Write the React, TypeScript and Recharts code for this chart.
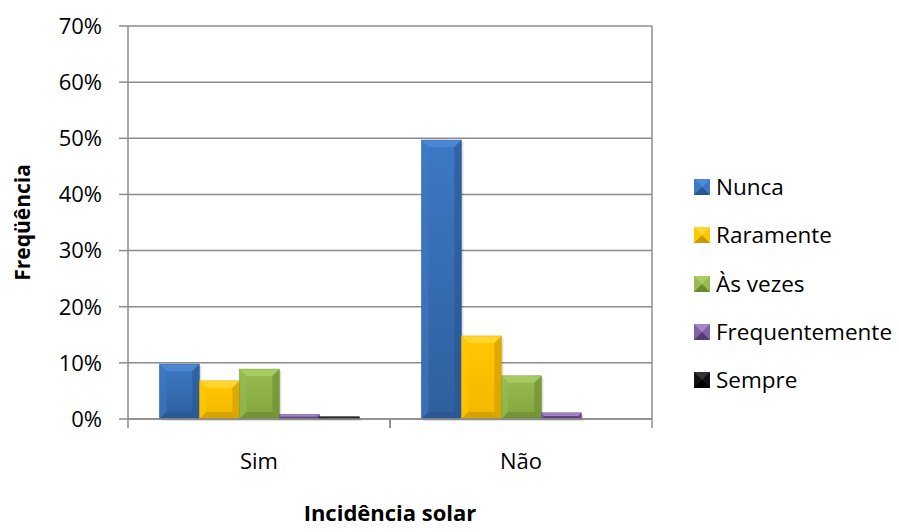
import React from "react";
import {
  BarChart,
  Bar,
  XAxis,
  YAxis,
  CartesianGrid,
  Legend,
} from "recharts";

const categories = ["Sim", "Não"];
const nunca = [0.098, 0.497];
const raramente = [0.068, 0.148];
const asVezes = [0.089, 0.077];
const frequentemente = [0.008, 0.011];
const sempre = [0.004, 0];
const yTicks = [0, 0.1, 0.2, 0.3, 0.4, 0.5, 0.6, 0.7];

const series = [
  { key: "nunca", name: "Nunca", values: nunca, top: "#4b8ad6", mid: "#3d79c4", bottom: "#2f5f9e", edge: "#2a5590" },
  { key: "raramente", name: "Raramente", values: raramente, top: "#ffd633", mid: "#ffc800", bottom: "#f2b800", edge: "#c99a00" },
  { key: "asVezes", name: "Às vezes", values: asVezes, top: "#a9cc63", mid: "#97bb52", bottom: "#83a53f", edge: "#6b8a30" },
  { key: "frequentemente", name: "Frequentemente", values: frequentemente, top: "#a387cc", mid: "#8064a2", bottom: "#6a4f8c", edge: "#553d73" },
  { key: "sempre", name: "Sempre", values: sempre, top: "#333333", mid: "#111111", bottom: "#000000", edge: "#000000" },
];

const data = categories.map((c, i) => {
  const row: Record<string, string | number> = { category: c };
  series.forEach((s) => {
    row[s.key] = s.values[i];
  });
  return row;
});

const FONT = "'Open Sans', sans-serif";
const GRID = "#8c8c8c";
const TICK_MARGIN = 34;

const makeShape = (s: (typeof series)[number]) => (props: any) => {
  const { x, y, width, height } = props;
  if (!height || height <= 0) return <g />;
  const w = width;
  const h = height;
  const b = Math.max(0.5, Math.min(7, w / 5, h / 2));
  return (
    <g>
      <rect x={x + 2} y={y + 2} width={w} height={h} fill="rgba(0,0,0,0.12)" />
      <rect x={x} y={y} width={w} height={h} fill={`url(#grad-${s.key})`} />
      <polygon
        points={`${x},${y} ${x + w},${y} ${x + w - b},${y + b} ${x + b},${y + b}`}
        fill={s.top}
        opacity={0.9}
      />
      <polygon
        points={`${x},${y} ${x + b},${y + b} ${x + b},${y + h - b} ${x},${y + h}`}
        fill={s.mid}
        opacity={0.6}
      />
      <polygon
        points={`${x + w},${y} ${x + w},${y + h} ${x + w - b},${y + h - b} ${x + w - b},${y + b}`}
        fill={s.edge}
        opacity={0.6}
      />
      <polygon
        points={`${x},${y + h} ${x + w},${y + h} ${x + w - b},${y + h - b} ${x + b},${y + h - b}`}
        fill={s.edge}
        opacity={0.7}
      />
      <rect x={x} y={y} width={w} height={h} fill="none" stroke={s.edge} strokeWidth={0.6} opacity={0.6} />
    </g>
  );
};

// category label plus Excel-style tick marks on the band edges
const CategoryTick = (props: any) => {
  const { x, y, payload } = props;
  const half = payload && payload.offset ? payload.offset : 131;
  const axisY = y - TICK_MARGIN;
  return (
    <g>
      <line x1={x - half} x2={x - half} y1={axisY} y2={axisY + 9} stroke={GRID} strokeWidth={1.5} />
      <line x1={x + half} x2={x + half} y1={axisY} y2={axisY + 9} stroke={GRID} strokeWidth={1.5} />
      <text
        x={x}
        y={y}
        dy="0.71em"
        textAnchor="middle"
        fontFamily={FONT}
        fontSize={22}
        fill="#000"
      >
        {payload.value}
      </text>
    </g>
  );
};

const YTitle = (props: any) => {
  const vb = props.viewBox;
  const cy = vb.y + vb.height / 2;
  return (
    <text
      x={22}
      y={cy}
      transform={`rotate(-90, 22, ${cy})`}
      textAnchor="middle"
      dominantBaseline="central"
      fontFamily={FONT}
      fontWeight={700}
      fontSize={21}
      fill="#000"
    >
      Freqüência
    </text>
  );
};

const XTitle = (props: any) => {
  const vb = props.viewBox;
  return (
    <text
      x={vb.x + vb.width / 2}
      y={521}
      textAnchor="middle"
      fontFamily={FONT}
      fontWeight={700}
      fontSize={22}
      fill="#000"
    >
      Incidência solar
    </text>
  );
};

const LegendContent = () => (
  <div style={{ fontFamily: FONT, fontSize: 22.5, color: "#000" }}>
    {series.map((s) => (
      <div
        key={s.key}
        style={{ display: "flex", alignItems: "center", height: 48.3 }}
      >
        <svg width={16} height={16} style={{ marginRight: 6 }}>
          <rect x={0} y={0} width={16} height={16} fill={s.mid} />
          <polygon points="0,0 16,0 8,8" fill={s.top} />
          <polygon points="0,16 16,16 8,8" fill={s.edge} />
        </svg>
        <span style={{ lineHeight: "22px" }}>{s.name}</span>
      </div>
    ))}
  </div>
);

export default function App() {
  return (
    <div style={{ position: "absolute", left: 0, top: 0, background: "#fff" }}>
      <BarChart
        width={899}
        height={532}
        data={data}
        margin={{ top: 26, right: 42, bottom: 0, left: 0 }}
        barCategoryGap="12%"
        barGap={0}
      >
        <defs>
          {series.map((s) => (
            <linearGradient key={s.key} id={`grad-${s.key}`} x1="0" y1="0" x2="0" y2="1">
              <stop offset="0%" stopColor={s.mid} />
              <stop offset="100%" stopColor={s.bottom} />
            </linearGradient>
          ))}
        </defs>
        <CartesianGrid
          stroke={GRID}
          strokeWidth={1.5}
          verticalCoordinatesGenerator={({ offset }: any) => [offset.left + offset.width]}
        />
        <XAxis
          dataKey="category"
          axisLine={{ stroke: GRID, strokeWidth: 1.5 }}
          tickLine={false}
          tickSize={0}
          tickMargin={TICK_MARGIN}
          height={113}
          tick={<CategoryTick />}
          label={<XTitle />}
        />
        <YAxis
          domain={[0, 0.7]}
          ticks={yTicks}
          width={128}
          tickFormatter={(v: number) => `${Math.round(v * 100)}%`}
          tick={{ fontFamily: FONT, fontSize: 22, fill: "#000" }}
          tickSize={9}
          tickMargin={17}
          stroke={GRID}
          strokeWidth={1.5}
          label={<YTitle />}
        />
        <Legend
          layout="vertical"
          verticalAlign="top"
          align="right"
          content={<LegendContent />}
          wrapperStyle={{ left: 694, top: 163, width: 205 }}
        />
        {series.map((s) => (
          <Bar
            key={s.key}
            dataKey={s.key}
            name={s.name}
            fill={s.mid}
            isAnimationActive={false}
            shape={makeShape(s)}
          />
        ))}
      </BarChart>
    </div>
  );
}
